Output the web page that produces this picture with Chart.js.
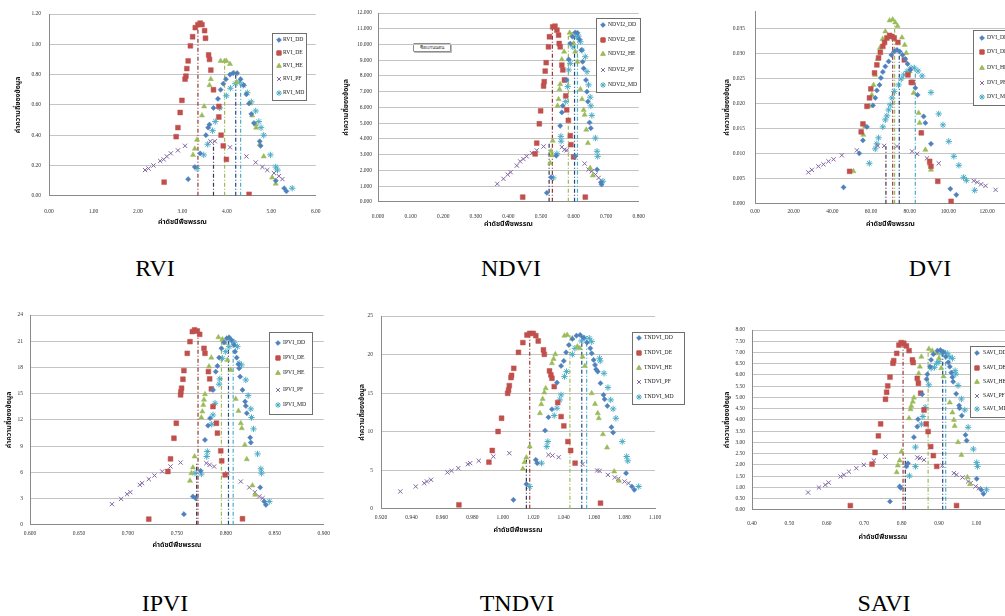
<!DOCTYPE html>
<html lang="th">
<head>
<meta charset="UTF-8">
<title>Vegetation index frequency</title>
<script src="https://cdn.jsdelivr.net/npm/chart.js@4"></script>
<style>
  body { margin:0; background:#fff; width:1005px; height:616px; overflow:hidden; position:relative; font-family:"Liberation Serif", serif; }
  .panel { position:absolute; }
  .caption { position:absolute; font-size:24px; color:#000; transform:translate(-50%,-50%); white-space:nowrap; }
  .note { position:absolute; left:413px; top:43px; width:36px; height:7px; border:1px solid #8c8c8c; border-radius:1px;
          box-shadow:1px 1px 0 #bbb; font-size:5px; line-height:7px; text-align:center; color:#333; background:#fff; }
</style>
</head>
<body>
<div class="note">ชื่อแกนนอน</div>
<script>
// series order used in every panel
const seriesKeys = ['DD', 'DE', 'HE', 'PF', 'MD'];
const seriesColors = ['#4F81BD', '#C0504D', '#9BBB59', '#8064A2', '#4BACC6'];
const meanColors = ['#1F497D', '#943634', '#9BBB59', '#3F3151', '#4BACC6'];
const markerStyles = ['rectRot', 'rect', 'triangle', 'crossRot', 'star'];
const markerSizes = [2.6, 3.4, 3.0, 3.0, 3.2];

const captions = ['RVI', 'NDVI', 'DVI', 'IPVI', 'TNDVI', 'SAVI'];
const yTitle = 'ค่าความถี่ของข้อมูล';
const xTitle = 'ค่าดัชนีพืชพรรณ';

// ---- RVI ----
const rviDD = [[3.13,0.11],[3.28,0.19],[3.40,0.28],[3.53,0.40],[3.58,0.45],[3.61,0.47],[3.70,0.58],[3.80,0.64],[3.86,0.70],[3.92,0.74],[3.98,0.77],[4.07,0.80],[4.14,0.81],[4.23,0.81],[4.31,0.77],[4.38,0.73],[4.44,0.67],[4.50,0.61],[4.55,0.54],[4.61,0.48],[4.74,0.36],[4.76,0.33],[5.10,0.10],[5.29,0.05],[5.34,0.03]];
const rviDE = [[2.59,0.09],[2.86,0.39],[2.90,0.45],[2.95,0.55],[2.99,0.63],[3.06,0.77],[3.08,0.79],[3.10,0.84],[3.13,0.89],[3.18,0.99],[3.23,1.05],[3.29,1.11],[3.35,1.13],[3.40,1.14],[3.44,1.13],[3.50,1.09],[3.52,1.04],[3.59,0.93],[3.61,0.90],[3.64,0.83],[3.70,0.70],[3.82,0.59],[3.82,0.52],[3.87,0.40],[3.92,0.33],[3.99,0.24],[4.50,0.01]];
const rviHE = [[3.24,0.27],[3.28,0.31],[3.33,0.37],[3.44,0.53],[3.49,0.59],[3.61,0.73],[3.64,0.77],[3.86,0.89],[3.95,0.89],[3.99,0.89],[4.07,0.87],[4.16,0.81],[4.22,0.75],[4.52,0.61],[4.57,0.53],[4.65,0.47],[4.66,0.45],[4.74,0.34],[4.83,0.26],[5.02,0.12],[5.10,0.08]];
const rviPF = [[2.16,0.17],[2.24,0.18],[2.35,0.20],[2.50,0.23],[2.58,0.24],[2.65,0.26],[2.74,0.28],[2.90,0.30],[3.06,0.33],[3.63,0.36],[3.73,0.36],[4.07,0.32],[4.44,0.26],[4.65,0.22],[4.80,0.19],[4.91,0.17],[5.06,0.15],[5.17,0.13],[5.25,0.11]];
const rviMD = [[3.33,0.18],[3.48,0.27],[3.57,0.34],[3.68,0.43],[3.74,0.49],[3.84,0.58],[3.99,0.66],[4.08,0.71],[4.19,0.74],[4.29,0.75],[4.37,0.73],[4.46,0.68],[4.55,0.62],[4.65,0.56],[4.72,0.49],[4.77,0.45],[4.83,0.40],[4.98,0.27],[5.10,0.19],[5.14,0.17],[5.47,0.05]];
const rviMeanX = [4.20, 3.35, 3.95, 3.70, 4.31];
const rviMeanY = [0.80, 1.12, 0.88, 0.36, 0.75];

// ---- NDVI ----
const ndviDD = [[0.518,0.57],[0.531,1.56],[0.547,2.93],[0.559,4.83],[0.564,5.68],[0.567,6.10],[0.579,7.74],[0.585,9.05],[0.590,10.06],[0.597,10.49],[0.605,10.76],[0.612,10.74],[0.618,10.32],[0.624,9.64],[0.628,8.90],[0.631,8.48],[0.638,7.74],[0.641,7.00],[0.644,6.37],[0.649,5.04],[0.653,4.68],[0.605,2.89],[0.672,2.05],[0.684,1.24],[0.686,1.10]];
const ndviDE = [[0.444,0.30],[0.482,3.04],[0.487,3.73],[0.495,4.96],[0.499,5.78],[0.508,7.36],[0.510,7.64],[0.513,8.31],[0.516,8.84],[0.523,9.85],[0.526,10.49],[0.536,11.12],[0.543,11.16],[0.549,10.91],[0.554,10.59],[0.556,10.06],[0.559,9.85],[0.564,8.69],[0.567,8.38],[0.572,7.74],[0.576,6.73],[0.579,5.84],[0.584,5.17],[0.590,4.20],[0.592,3.63],[0.600,2.85],[0.636,0.30]];
const ndviHE = [[0.528,2.47],[0.531,3.21],[0.533,2.95],[0.536,3.88],[0.551,6.10],[0.554,6.52],[0.557,7.15],[0.559,7.47],[0.564,9.05],[0.571,9.54],[0.588,10.74],[0.595,10.60],[0.600,10.06],[0.605,9.54],[0.612,8.90],[0.621,7.15],[0.626,6.52],[0.631,5.84],[0.634,5.53],[0.639,4.58],[0.644,3.73],[0.651,2.15],[0.659,1.67]];
const ndviPF = [[0.366,1.14],[0.385,1.46],[0.398,1.73],[0.407,1.88],[0.426,2.30],[0.436,2.57],[0.446,2.72],[0.456,2.89],[0.472,3.10],[0.487,3.27],[0.508,3.52],[0.564,3.48],[0.572,3.31],[0.579,3.27],[0.634,2.43],[0.646,2.05],[0.656,1.94],[0.667,1.73],[0.677,1.52]];
const ndviMD = [[0.538,1.52],[0.549,3.06],[0.561,4.16],[0.562,3.85],[0.576,6.37],[0.582,7.32],[0.585,8.38],[0.590,8.80],[0.598,9.85],[0.610,10.49],[0.615,10.53],[0.621,10.17],[0.626,9.64],[0.636,9.22],[0.641,8.27],[0.646,7.43],[0.651,6.65],[0.653,6.10],[0.656,5.49],[0.667,4.05],[0.672,3.21],[0.674,2.89],[0.690,1.31]];
const ndviMeanX = [0.603, 0.535, 0.584, 0.525, 0.612];
const ndviMeanY = [10.76, 11.10, 10.70, 3.70, 10.50];

// ---- DVI ----
const dviDD = [[45.8,0.0033],[53.9,0.0101],[55.8,0.0127],[57.9,0.0154],[61.0,0.0197],[62.2,0.0212],[63.0,0.0227],[64.4,0.0238],[65.1,0.0252],[66.1,0.0264],[67.4,0.0275],[69.1,0.0285],[70.5,0.0298],[72.0,0.0305],[73.4,0.0308],[74.8,0.0305],[76.3,0.0298],[77.7,0.0290],[78.9,0.0280],[80.3,0.0268],[82.9,0.0232],[84.1,0.0218],[87.2,0.0175],[88.1,0.0162],[91.0,0.0120],[101.0,0.0030],[104.1,0.0018]];
const dviDE = [[48.9,0.0065],[54.9,0.0144],[55.8,0.0160],[57.9,0.0195],[59.2,0.0212],[59.9,0.0230],[61.8,0.0262],[63.0,0.0278],[63.9,0.0292],[64.8,0.0303],[66.1,0.0315],[67.0,0.0323],[68.2,0.0332],[69.6,0.0337],[70.8,0.0335],[72.0,0.0332],[73.9,0.0323],[77.2,0.0288],[79.1,0.0258],[80.8,0.0243],[81.4,0.0243],[86.0,0.0142],[90.3,0.0085],[91.0,0.0075],[94.5,0.0045],[101.4,0.0005]];
const dviHE = [[50.9,0.0065],[56.0,0.0138],[57.0,0.0155],[59.1,0.0196],[60.4,0.0218],[61.3,0.0238],[62.1,0.0258],[63.4,0.0290],[64.6,0.0312],[66.0,0.0330],[67.4,0.0345],[69.6,0.0367],[71.2,0.0369],[72.5,0.0363],[73.7,0.0356],[76.0,0.0333],[77.4,0.0318],[78.2,0.0302],[80.0,0.0265],[81.2,0.0243],[82.0,0.0222],[84.6,0.0182],[85.1,0.0162],[86.0,0.0142],[88.1,0.0108],[90.3,0.0080],[91.0,0.0068]];
const dviPF = [[27.6,0.0063],[29.4,0.0068],[32.8,0.0075],[35.4,0.0079],[38.0,0.0085],[40.6,0.0089],[44.9,0.0097],[52.7,0.0107],[63.4,0.0116],[66.8,0.0116],[73.4,0.0115],[81.2,0.0105],[83.8,0.0100],[88.9,0.0091],[95.0,0.0081],[113.1,0.0046],[114.9,0.0043],[116.9,0.0039],[119.2,0.0036],[124.4,0.0028]];
const dviMD = [[59.1,0.0081],[62.2,0.0110],[63.0,0.0120],[63.9,0.0132],[66.1,0.0154],[67.4,0.0168],[68.2,0.0176],[69.1,0.0188],[69.9,0.0198],[70.8,0.0212],[72.0,0.0225],[74.2,0.0238],[75.6,0.0250],[76.9,0.0258],[78.6,0.0265],[80.7,0.0272],[82.4,0.0272],[84.3,0.0266],[86.4,0.0256],[91.0,0.0223],[95.0,0.0180],[97.2,0.0158],[100.2,0.0125],[102.8,0.0095],[105.4,0.0077],[107.9,0.0053],[109.3,0.0047],[113.6,0.0027]];
const dviMeanX = [74.6, 71.2, 72.2, 67.7, 82.9];
const dviMeanY = [0.0308, 0.0335, 0.0363, 0.0115, 0.0272];

// ---- IPVI ----
const ipviDD = [[0.7572,1.22],[0.7664,3.24],[0.7690,3.05],[0.7743,6.17],[0.7787,9.71],[0.7818,11.35],[0.7839,12.19],[0.7869,15.43],[0.7897,17.52],[0.7914,18.17],[0.7931,19.12],[0.7955,20.19],[0.7982,20.88],[0.8010,21.33],[0.8033,21.45],[0.8057,21.14],[0.8084,20.57],[0.8094,19.81],[0.8111,19.12],[0.8129,18.36],[0.8136,17.90],[0.8146,16.95],[0.8170,15.43],[0.8197,14.10],[0.8204,13.60],[0.8214,12.76],[0.8249,9.98],[0.8255,9.41],[0.8351,4.27],[0.8392,2.67],[0.8409,2.29]];
const ipviDE = [[0.7213,0.65],[0.7408,6.10],[0.7435,7.54],[0.7470,9.90],[0.7494,11.62],[0.7538,14.86],[0.7541,15.20],[0.7548,15.62],[0.7562,16.65],[0.7572,17.64],[0.7606,19.62],[0.7634,20.95],[0.7658,22.10],[0.7681,22.29],[0.7709,22.17],[0.7733,21.79],[0.7777,20.19],[0.7787,19.62],[0.7822,17.52],[0.7835,16.69],[0.7852,15.54],[0.7869,13.52],[0.7904,11.62],[0.7914,10.48],[0.7948,8.46],[0.7958,7.31],[0.7993,5.71],[0.8170,0.69]];
const ipviHE = [[0.7634,5.03],[0.7648,5.90],[0.7664,6.55],[0.7681,7.81],[0.7750,12.27],[0.7760,12.95],[0.7770,13.71],[0.7777,14.30],[0.7787,14.93],[0.7828,18.10],[0.7852,19.12],[0.7924,21.45],[0.7965,21.22],[0.7990,20.80],[0.8016,18.86],[0.8050,17.71],[0.8101,14.40],[0.8129,13.03],[0.8153,11.62],[0.8163,11.05],[0.8194,9.14],[0.8214,7.50],[0.8272,4.50],[0.8300,3.43]];
const ipviPF = [[0.6837,2.36],[0.6930,2.97],[0.6991,3.50],[0.7025,3.73],[0.7121,4.57],[0.7145,4.76],[0.7213,5.22],[0.7271,5.64],[0.7350,6.10],[0.7435,6.67],[0.7538,7.12],[0.7801,7.05],[0.7835,6.86],[0.7880,6.67],[0.8016,5.90],[0.8153,4.95],[0.8239,4.27],[0.8297,3.73],[0.8341,3.24],[0.8375,3.05]];
const ipviMD = [[0.7685,5.90],[0.7750,5.80],[0.7805,7.81],[0.7811,8.38],[0.7856,11.50],[0.7869,12.57],[0.7890,13.90],[0.7931,16.08],[0.7938,16.69],[0.7965,19.05],[0.7999,19.81],[0.8033,20.38],[0.8057,21.03],[0.8084,20.88],[0.8118,20.38],[0.8136,18.48],[0.8160,18.29],[0.8204,16.57],[0.8228,14.78],[0.8255,13.26],[0.8262,12.27],[0.8283,10.97],[0.8324,8.11],[0.8358,6.40],[0.8365,5.90],[0.8444,2.67]];
const ipviMeanX = [0.8027, 0.7716, 0.7955, 0.7702, 0.8075];
const ipviMeanY = [21.4, 22.2, 21.4, 7.0, 21.0];

// ---- TNDVI ----
const tndviDD = [[1.0070,1.17],[1.0155,3.20],[1.0217,6.35],[1.0226,5.92],[1.0278,10.15],[1.0300,11.87],[1.0323,12.91],[1.0356,16.36],[1.0383,18.52],[1.0401,19.17],[1.0416,20.29],[1.0434,21.24],[1.0457,22.02],[1.0484,22.45],[1.0508,22.54],[1.0531,22.19],[1.0553,21.55],[1.0575,20.81],[1.0584,20.16],[1.0597,19.30],[1.0606,18.65],[1.0613,18.09],[1.0624,17.79],[1.0642,16.28],[1.0662,14.77],[1.0669,14.21],[1.0687,13.34],[1.0714,10.58],[1.0725,9.89],[1.0810,4.62],[1.0848,2.89],[1.0864,2.46]];
const tndviDE = [[0.9712,0.52],[0.9909,6.04],[0.9931,7.56],[0.9969,10.02],[0.9992,11.74],[1.0032,14.98],[1.0038,15.40],[1.0043,15.98],[1.0054,17.01],[1.0058,17.30],[1.0072,18.22],[1.0103,20.29],[1.0132,21.55],[1.0159,22.54],[1.0177,22.75],[1.0200,22.75],[1.0217,22.45],[1.0233,21.76],[1.0267,20.60],[1.0273,20.03],[1.0307,17.88],[1.0316,17.36],[1.0323,16.93],[1.0338,15.85],[1.0361,13.77],[1.0383,11.96],[1.0401,10.75],[1.0428,8.72],[1.0446,7.56],[1.0475,5.92],[1.0642,0.73]];
const tndviHE = [[1.0132,5.18],[1.0143,6.04],[1.0155,6.65],[1.0177,8.07],[1.0244,12.39],[1.0253,13.56],[1.0262,14.25],[1.0273,15.07],[1.0282,15.63],[1.0323,18.87],[1.0334,19.43],[1.0345,20.03],[1.0405,22.45],[1.0423,22.54],[1.0457,22.11],[1.0490,21.03],[1.0506,20.81],[1.0524,19.73],[1.0539,18.52],[1.0584,14.98],[1.0606,13.60],[1.0624,12.39],[1.0631,11.74],[1.0658,9.67],[1.0685,7.94],[1.0732,4.84],[1.0763,3.63]];
const tndviPF = [[0.9327,2.25],[0.9428,2.89],[0.9484,3.32],[0.9502,3.54],[0.9529,3.76],[0.9636,4.71],[0.9663,4.92],[0.9708,5.27],[0.9770,5.79],[0.9786,5.92],[0.9842,6.22],[0.9938,6.78],[1.0043,7.21],[1.0300,7.00],[1.0327,6.91],[1.0367,6.69],[1.0524,5.79],[1.0620,4.97],[1.0636,4.92],[1.0691,4.40],[1.0736,4.06],[1.0759,3.89],[1.0799,3.54],[1.0826,3.32]];
const tndviMD = [[1.0177,2.89],[1.0255,5.92],[1.0289,8.07],[1.0296,8.72],[1.0338,12.09],[1.0356,13.04],[1.0374,14.12],[1.0383,14.77],[1.0405,17.14],[1.0419,17.79],[1.0457,20.03],[1.0474,20.81],[1.0517,21.76],[1.0539,22.11],[1.0568,22.11],[1.0584,21.68],[1.0636,19.52],[1.0640,19.17],[1.0665,17.57],[1.0691,15.72],[1.0709,14.12],[1.0725,12.95],[1.0743,11.74],[1.0785,8.72],[1.0814,6.78],[1.0821,6.22],[1.0893,2.89]];
const tndviMeanX = [1.0519, 1.0177, 1.0441, 1.0155, 1.0551];
const tndviMeanY = [22.5, 22.7, 22.5, 7.0, 22.1];

// ---- SAVI ----
const saviDD = [[0.769,0.37],[0.795,1.04],[0.798,0.97],[0.813,1.93],[0.817,2.07],[0.833,3.23],[0.842,3.70],[0.844,4.03],[0.855,5.14],[0.867,5.81],[0.869,6.03],[0.876,6.37],[0.879,6.67],[0.885,6.92],[0.896,7.08],[0.904,7.11],[0.912,7.01],[0.918,6.81],[0.925,6.56],[0.929,6.37],[0.933,6.10],[0.936,5.90],[0.938,5.70],[0.946,5.16],[0.954,4.64],[0.955,4.52],[0.961,4.19],[0.971,3.33],[0.974,3.08],[1.001,1.38],[1.013,0.89],[1.019,0.71]];
const saviDE = [[0.663,0.19],[0.721,2.03],[0.729,2.55],[0.738,3.29],[0.744,3.82],[0.757,4.92],[0.760,5.23],[0.763,5.51],[0.769,5.90],[0.777,6.52],[0.779,6.64],[0.787,6.96],[0.793,7.33],[0.799,7.44],[0.806,7.41],[0.813,7.29],[0.820,7.08],[0.829,6.67],[0.831,6.55],[0.842,5.85],[0.845,5.63],[0.851,5.19],[0.860,4.44],[0.866,3.82],[0.871,3.48],[0.878,2.81],[0.885,2.41],[0.894,1.93],[0.947,0.19]];
const saviHE = [[0.787,1.67],[0.790,1.97],[0.795,2.19],[0.800,2.59],[0.820,4.07],[0.824,4.47],[0.826,4.62],[0.830,4.81],[0.833,4.99],[0.846,6.07],[0.849,6.37],[0.853,6.81],[0.873,7.16],[0.882,7.08],[0.894,6.96],[0.900,6.74],[0.906,6.30],[0.912,5.93],[0.929,4.77],[0.936,4.33],[0.940,4.00],[0.942,3.73],[0.951,3.01],[0.960,2.44],[0.976,1.45],[0.983,1.14]];
const saviPF = [[0.550,0.77],[0.579,0.99],[0.596,1.11],[0.605,1.21],[0.637,1.48],[0.646,1.56],[0.659,1.70],[0.679,1.85],[0.699,2.00],[0.726,2.19],[0.757,2.37],[0.842,2.33],[0.849,2.30],[0.860,2.22],[0.909,1.97],[0.940,1.63],[0.947,1.56],[0.963,1.44],[0.978,1.26],[0.985,1.19],[0.998,1.04],[1.007,0.96]];
const saviMD = [[0.821,1.51],[0.837,1.93],[0.837,2.79],[0.853,3.81],[0.857,4.15],[0.863,4.56],[0.873,5.56],[0.879,6.30],[0.888,6.34],[0.894,6.52],[0.900,6.59],[0.906,6.96],[0.913,7.01],[0.922,6.96],[0.929,6.81],[0.936,6.74],[0.943,6.19],[0.945,6.04],[0.951,5.53],[0.960,4.93],[0.969,4.44],[0.978,3.67],[0.992,2.70],[1.001,2.10],[1.003,1.93],[1.027,0.89]];
const saviMeanX = [0.910, 0.804, 0.871, 0.810, 0.918];
const saviMeanY = [7.1, 7.4, 7.2, 2.4, 7.0];

// axis ranges: [min, max, step, decimals]
const rviX = [0, 6, 1, 2],          rviY = [0, 1.2, 0.2, 2];
const ndviX = [0, 0.8, 0.1, 3],     ndviY = [0, 12, 1, 3];
const dviX = [0, 140, 20, 2],       dviY = [0, 0.0386, 0.005, 3];
const ipviX = [0.6, 0.9, 0.05, 3],  ipviY = [0, 24, 3, 0];
const tndviX = [0.92, 1.1, 0.02, 3], tndviY = [0, 25, 5, 0];
const saviX = [0.4, 1.1, 0.1, 2],   saviY = [0, 8, 0.5, 2];

const panels = [
  { name: 'RVI', prefix: 'RVI', series: [rviDD, rviDE, rviHE, rviPF, rviMD], meanX: rviMeanX, meanY: rviMeanY, xr: rviX, yr: rviY,
    plot: [49, 14, 315, 196], cl: 2, yTitleX: 19, xTitleY: 223, xTickY: 211, yTickRight: 41,
    legend: [272, 33, 306, 100], rows: [40, 53, 66, 79, 93], markX: 279, textX: 283, cap: [155, 268] },
  { name: 'NDVI', prefix: 'NDVI2', series: [ndviDD, ndviDE, ndviHE, ndviPF, ndviMD], meanX: ndviMeanX, meanY: ndviMeanY, xr: ndviX, yr: ndviY,
    plot: [378, 13, 638, 202], cl: 338, yTitleX: 347, xTitleY: 225, xTickY: 216, yTickRight: 372,
    legend: [596, 18, 640, 92], rows: [25, 40, 54, 70, 85], markX: 603, textX: 608, cap: [511, 268] },
  { name: 'DVI', prefix: 'DVI', series: [dviDD, dviDE, dviHE, dviPF, dviMD], meanX: dviMeanX, meanY: dviMeanY, xr: dviX, yr: dviY,
    plot: [755, 11, 1025, 204], cl: 718, yTitleX: 728, xTitleY: 225, xTickY: 211, yTickRight: 745,
    legend: [973, 30, 1022, 105], rows: [38, 52, 68, 83, 97], markX: 982, textX: 987, cap: [930, 268] },
  { name: 'IPVI', prefix: 'IPVI', series: [ipviDD, ipviDE, ipviHE, ipviPF, ipviMD], meanX: ipviMeanX, meanY: ipviMeanY, xr: ipviX, yr: ipviY,
    plot: [30, 315, 323, 525], cl: 0, yTitleX: 10, xTitleY: 546, xTickY: 533, yTickRight: 23,
    legend: [269, 332, 312, 414], rows: [343, 358, 373, 390, 405], markX: 278, textX: 283, cap: [165, 603] },
  { name: 'TNDVI', prefix: 'TNDVI', series: [tndviDD, tndviDE, tndviHE, tndviPF, tndviMD], meanX: tndviMeanX, meanY: tndviMeanY, xr: tndviX, yr: tndviY,
    plot: [381, 316, 655, 509], cl: 345, yTitleX: 363, xTitleY: 531, xTickY: 517, yTickRight: 373,
    legend: [632, 332, 684, 404], rows: [338, 353, 368, 382, 397], markX: 639, textX: 644, cap: [517, 603] },
  { name: 'SAVI', prefix: 'SAVI', series: [saviDD, saviDE, saviHE, saviPF, saviMD], meanX: saviMeanX, meanY: saviMeanY, xr: saviX, yr: saviY,
    plot: [752, 330, 1013, 510], cl: 718, yTitleX: 728, xTitleY: 538, xTickY: 523, yTickRight: 745,
    legend: [970, 346, 1022, 417], rows: [353, 368, 382, 396, 409], markX: 977, textX: 983, cap: [884, 603] }
];

const tickSize = 5.5;
const tickFont = { size: tickSize, family: '"Liberation Serif", serif' };
const titleFont = { size: 7, weight: 'bold', family: '"Noto Sans Thai", "Liberation Serif", serif' };
const titleLineH = 7 * 1.2;

// legend box drawn inside the plot, like the Excel charts
const boxLegend = {
  id: 'boxLegend',
  afterDraw(chart, args, o) {
    const ctx = chart.ctx;
    const [x0, y0, x1, y1] = o.box;
    ctx.save();
    ctx.fillStyle = '#fff';
    ctx.fillRect(x0, y0, x1 - x0, y1 - y0);
    ctx.strokeStyle = '#6f6f6f';
    ctx.lineWidth = 1;
    ctx.strokeRect(x0 + 0.5, y0 + 0.5, x1 - x0, y1 - y0);
    o.rows.forEach((ry, i) => {
      ctx.fillStyle = seriesColors[i];
      ctx.strokeStyle = seriesColors[i];
      Chart.helpers.drawPoint(ctx, { pointStyle: markerStyles[i], radius: markerSizes[i] * 0.9, borderWidth: 1, rotation: 0 }, o.markX, ry);
      ctx.fillStyle = '#222';
      ctx.font = '5.7px "Liberation Serif", serif';
      ctx.textBaseline = 'middle';
      ctx.fillText(o.prefix + '_' + seriesKeys[i], o.textX, ry);
    });
    ctx.restore();
  }
};

function buildPanel(p, idx) {
  const [l, t, r, b] = p.plot;
  const xTickPad = p.xTickY - b - tickSize / 2;
  const yTickPad = l - p.yTickRight;
  // chart.js reserves half a label plus the tick padding around the plot, so leave that room
  const padTop = Math.ceil(tickSize * 0.6 + yTickPad) + 1;
  const top = t - padTop;
  const rightPad = Math.max(p.legend[2] - r + 3, 10 + xTickPad);
  const xAxisH = p.xTitleY + titleLineH / 2 + 1 - b;
  const width = Math.ceil(r + rightPad - p.cl);
  const height = Math.round(b + xAxisH - top);

  const div = document.createElement('div');
  div.className = 'panel';
  div.style.left = p.cl + 'px';
  div.style.top = top + 'px';
  const canvas = document.createElement('canvas');
  canvas.width = width;
  canvas.height = height;
  div.appendChild(canvas);
  document.body.appendChild(div);

  const datasets = p.series.map((s, i) => ({
    label: p.prefix + '_' + seriesKeys[i],
    data: s.map(([x, y]) => ({ x, y })),
    pointStyle: markerStyles[i],
    pointRadius: markerSizes[i],
    backgroundColor: seriesColors[i],
    borderColor: seriesColors[i],
    borderWidth: (i === 3 || i === 4) ? 1 : 0.5
  }));
  p.meanX.forEach((m, i) => {
    datasets.push({
      label: 'mean_' + seriesKeys[i],
      data: [{ x: m, y: 0 }, { x: m, y: p.meanY[i] }],
      showLine: true,
      pointRadius: 0,
      borderColor: meanColors[i],
      borderWidth: 1.2,
      borderDash: [4, 2, 1, 2]
    });
  });

  const [xmin, xmax, xstep, xdec] = p.xr;
  const [ymin, ymax, ystep, ydec] = p.yr;

  new Chart(canvas, {
    type: 'scatter',
    data: { datasets },
    options: {
      responsive: false,
      animation: false,
      events: [],
      layout: { padding: { left: 0, top: padTop, right: rightPad, bottom: 0 } },
      plugins: {
        legend: { display: false },
        tooltip: { enabled: false },
        boxLegend: {
          box: [p.legend[0] - p.cl, p.legend[1] - top, p.legend[2] - p.cl, p.legend[3] - top],
          rows: p.rows.map(v => v - top),
          markX: p.markX - p.cl,
          textX: p.textX - p.cl,
          prefix: p.prefix
        }
      },
      scales: {
        x: {
          type: 'linear', min: xmin, max: xmax,
          afterFit: s => { s.height = b + xAxisH - top - padTop - (b - t); },
          grid: { display: false, drawTicks: false },
          border: { display: true, color: '#8a8a8a', width: 1 },
          ticks: {
            stepSize: xstep, autoSkip: false, maxRotation: 0, minRotation: 0,
            padding: xTickPad, font: tickFont, color: '#333',
            callback: v => Number(v).toFixed(xdec)
          },
          title: { display: true, text: xTitle, font: titleFont, color: '#111', padding: { top: 0, bottom: 1 } }
        },
        y: {
          type: 'linear', min: ymin, max: ymax,
          afterFit: s => { s.width = l - p.cl; },
          grid: { color: '#c4c4c4', lineWidth: 1, drawTicks: false },
          border: { display: true, color: '#8a8a8a', width: 1 },
          ticks: {
            stepSize: ystep, autoSkip: false, includeBounds: false,
            padding: yTickPad, font: tickFont, color: '#333',
            callback: v => Number(v).toFixed(ydec)
          },
          title: { display: true, text: yTitle, font: titleFont, color: '#111', padding: { top: p.yTitleX - p.cl - titleLineH / 2, bottom: 0 } }
        }
      }
    },
    plugins: [boxLegend]
  });

  const cap = document.createElement('div');
  cap.className = 'caption';
  cap.textContent = captions[idx];
  cap.style.left = p.cap[0] + 'px';
  cap.style.top = p.cap[1] + 'px';
  document.body.appendChild(cap);
}

panels.forEach(buildPanel);
</script>
</body>
</html>
